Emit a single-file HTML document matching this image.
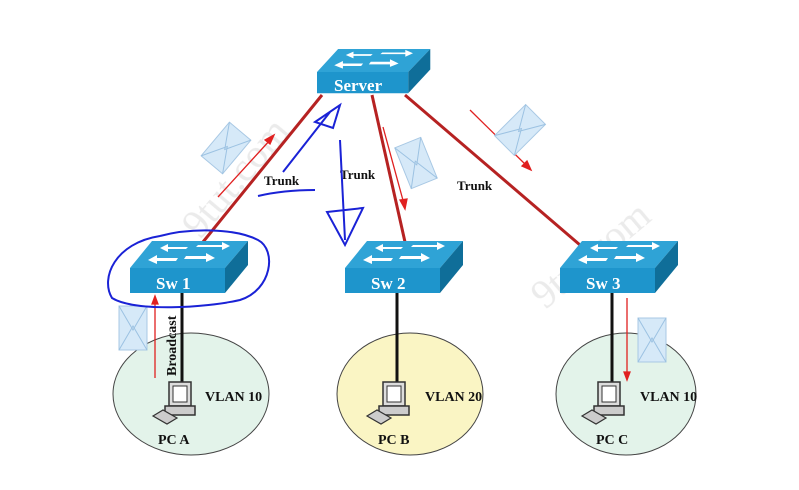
<!DOCTYPE html>
<html><head><meta charset="utf-8"><style>
body{margin:0;background:#fff}
svg{display:block}
text{font-family:"Liberation Serif",serif;font-weight:bold}
</style></head><body>
<svg width="799" height="490" viewBox="0 0 799 490" xmlns="http://www.w3.org/2000/svg">
<defs>
<g id="sw">
<polygon points="0,0 22,-27 118,-27 95,0" fill="#2fa3d6"/>
<polygon points="95,0 118,-27 118,-3 95,25" fill="#0f6e99"/>
<rect x="0" y="0" width="95" height="25" fill="#1e95cc"/>
<g fill="#fff">
<polygon points="30,-20 38,-24 38,-21 58,-21 56,-19 38,-19 38,-16"/>
<polygon points="100,-22 92,-26 92,-23 68,-23 66,-21 92,-21 92,-18"/>
<polygon points="18,-8 27,-13 27,-10 48,-10 46,-7 27,-7 27,-4"/>
<polygon points="85,-10 76,-15 76,-12 56,-12 54,-9 76,-9 76,-6"/>
</g>
</g>
<g id="env"><rect x="-14" y="-22" width="28" height="44" fill="#d6e9f8" stroke="#a8c8e4"/><path d="M-14,-22 L0,2 L14,-22 M-14,22 L0,-2 L14,22" stroke="#9cc2e2" fill="none"/></g>
<g id="pc">
<rect x="-14" y="-18" width="22" height="24" fill="#ddd" stroke="#333" stroke-width="1.5"/>
<rect x="-10" y="-14" width="14" height="16" fill="#fff" stroke="#333"/>
<rect x="-18" y="6" width="30" height="9" fill="#ccc" stroke="#333" stroke-width="1.5"/>
<polygon points="-30,16 -20,10 -6,18 -16,24" fill="#ccc" stroke="#333" stroke-width="1.2"/>
</g>
</defs>
<ellipse cx="191" cy="394" rx="78" ry="61" fill="#e3f3ea" stroke="#444" stroke-width="1"/>
<ellipse cx="410" cy="394" rx="73" ry="61" fill="#faf5c4" stroke="#444" stroke-width="1"/>
<ellipse cx="626" cy="394" rx="70" ry="61" fill="#e3f3ea" stroke="#444" stroke-width="1"/>
<g fill="#ccc" opacity="0.4" font-family="Liberation Serif" font-size="40" font-weight="normal">
<text transform="translate(200,240) rotate(-50)" style="font-weight:normal">9tut.com</text>
<text transform="translate(545,310) rotate(-40)" style="font-weight:normal">9tut.com</text>
</g>
<g stroke="#b62222" stroke-width="3">
<line x1="322" y1="95" x2="203" y2="242"/>
<line x1="372" y1="95" x2="405" y2="242"/>
<line x1="405" y1="95" x2="580" y2="245"/>
</g>
<g stroke="#111" stroke-width="3">
<line x1="182" y1="293" x2="182" y2="382"/>
<line x1="397" y1="293" x2="397" y2="382"/>
<line x1="612" y1="293" x2="612" y2="382"/>
</g>
<g stroke="#e02020" stroke-width="1.3" fill="#e02020">
<line x1="218" y1="197" x2="271" y2="139"/><polygon points="274,135 265,140 270,144"/>
<line x1="383" y1="127" x2="404" y2="204"/><polygon points="405,209 400,200 407,199"/>
<line x1="470" y1="110" x2="528" y2="167"/><polygon points="531,170 522,166 527,161"/>
<line x1="155" y1="378" x2="155" y2="302"/><polygon points="155,296 152,304 158,304"/>
<line x1="627" y1="298" x2="627" y2="374"/><polygon points="627,380 624,372 630,372"/>
</g>
<use href="#env" transform="translate(226,148) rotate(40)"/>
<use href="#env" transform="translate(416,163) rotate(-22)"/>
<use href="#env" transform="translate(520,130) rotate(45)"/>
<use href="#env" transform="translate(133,328)"/>
<use href="#env" transform="translate(652,340)"/>
<use href="#sw" transform="translate(317,72) scale(0.96,0.85)"/>
<use href="#sw" transform="translate(130,268)"/>
<use href="#sw" transform="translate(345,268)"/>
<use href="#sw" transform="translate(560,268)"/>
<g fill="#fff" font-size="17">
<text x="334" y="91">Server</text>
<text x="156" y="289">Sw 1</text>
<text x="371" y="289">Sw 2</text>
<text x="586" y="289">Sw 3</text>
</g>
<use href="#pc" transform="translate(183,400)"/>
<use href="#pc" transform="translate(397,400)"/>
<use href="#pc" transform="translate(612,400)"/>
<g fill="#111" font-size="13">
<text x="264" y="185">Trunk</text>
<text x="340" y="179">Trunk</text>
<text x="457" y="190">Trunk</text>
<text x="205" y="401" font-size="14">VLAN 10</text>
<text x="425" y="401" font-size="14">VLAN 20</text>
<text x="640" y="401" font-size="14">VLAN 10</text>
<text x="158" y="444" font-size="14">PC A</text>
<text x="378" y="444" font-size="14">PC B</text>
<text x="596" y="444" font-size="14">PC C</text>
<text transform="translate(176,376) rotate(-90)" font-size="14">Broadcast</text>
</g>
<g stroke="#1a22d6" stroke-width="2" fill="none">
<path d="M160,236 C115,243 100,278 112,298 C135,312 205,308 240,300 C272,290 277,250 258,240 C235,228 190,228 160,236"/>
<path d="M283,172 L330,112 M315,122 L340,105 L333,128 Z"/>
<path d="M258,196 C275,192 295,190 315,190"/>
<path d="M340,140 L345,240 M327,212 L363,208 L345,245 Z"/>
</g>
</svg>
</body></html>
